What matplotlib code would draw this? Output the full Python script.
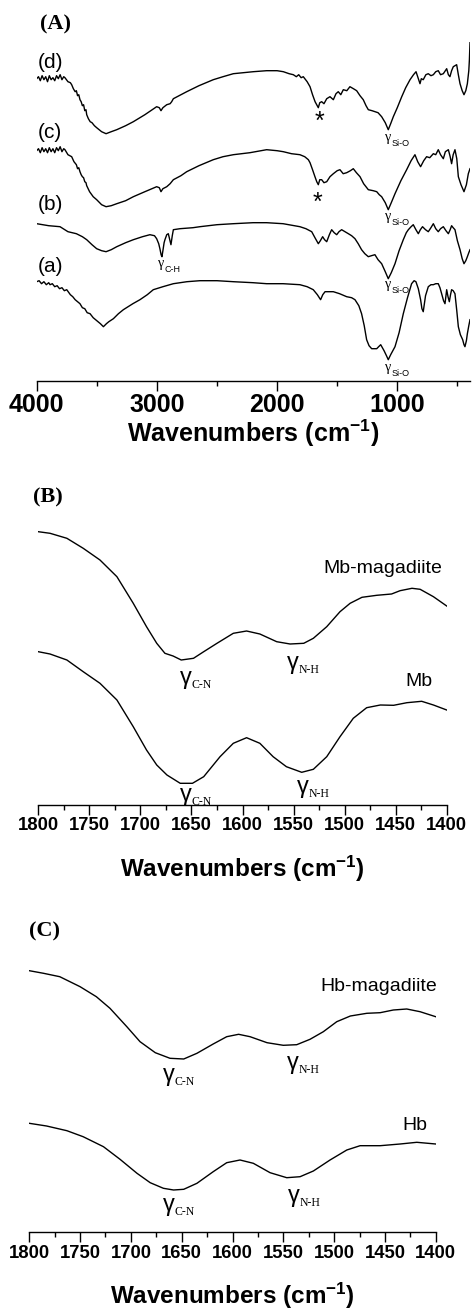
import matplotlib
matplotlib.use('Agg')
import matplotlib.pyplot as plt
from matplotlib.ticker import MultipleLocator

plt.rcParams['font.family'] = 'Liberation Sans'
plt.rcParams['mathtext.default'] = 'regular'

# ---- (A) full-range FTIR spectra, transmittance (a.u., offset) ----
d_wn = [4000, 3985, 3970, 3955, 3940, 3925, 3910, 3895, 3880, 3865, 3850, 3835, 3820, 3805, 3790,
        3775, 3765, 3740, 3720, 3709, 3695, 3680, 3670, 3660, 3650, 3640, 3630, 3620, 3610, 3600,
        3590, 3584, 3570, 3555, 3540, 3520, 3501, 3460, 3423, 3380, 3334, 3260, 3196, 3100, 3002,
        2980, 2966, 2950, 2918, 2890, 2877, 2863, 2800, 2752, 2650, 2531, 2450, 2364, 2280, 2198,
        2087, 2000, 1948, 1900, 1865, 1840, 1820, 1800, 1782, 1750, 1726, 1705, 1684, 1670, 1657,
        1645, 1629, 1610, 1587, 1560, 1532, 1510, 1491, 1470, 1449, 1420, 1394, 1365, 1338, 1310,
        1283, 1260, 1241, 1210, 1186, 1160, 1130, 1100, 1075, 1055, 1033, 1000, 963, 930, 894,
        865, 844, 825, 811, 800, 784, 762, 742, 720, 700, 680, 659, 640, 617, 600, 589, 575, 562,
        548, 534, 520, 506, 492, 478, 460, 445, 430, 417, 405, 400, 397, 395]
d_t = [302, 304, 300, 305, 301, 304, 299, 305, 301, 303, 300, 305, 302, 306, 301,
       304, 303, 299, 298, 296, 292, 289, 290, 285, 286, 281, 279, 275, 276, 270,
       271, 266, 262, 259, 258, 255, 253, 249, 247, 249, 251, 255, 259, 266, 274,
       273, 270, 273, 276, 277, 279, 282, 286, 289, 295, 301, 304, 307, 308, 309,
       310, 310, 309, 307, 306, 304, 306, 303, 304, 299, 294, 286, 279, 276, 273,
       278, 279, 277, 282, 284, 281, 287, 289, 286, 291, 290, 294, 292, 290, 285,
       281, 275, 271, 270, 269, 268, 264, 258, 251, 257, 264, 273, 284, 293, 301,
       306, 309, 302, 297, 302, 301, 306, 307, 305, 306, 309, 310, 306, 307, 310, 312, 306, 304,
       310, 314, 315, 316, 306, 297, 290, 286, 290, 297, 310, 321, 330, 338]

c_wn = [4000, 3985, 3970, 3955, 3940, 3925, 3910, 3895, 3880, 3865, 3850, 3835, 3820, 3805, 3790,
        3775, 3765, 3740, 3709, 3690, 3670, 3660, 3650, 3640, 3630, 3620, 3610, 3600, 3590, 3584,
        3560, 3530, 3501, 3460, 3423, 3380, 3334, 3260, 3196, 3100, 3002, 2980, 2966, 2950, 2918,
        2890, 2863, 2800, 2752, 2650, 2531, 2450, 2364, 2226, 2087, 2000, 1948, 1880, 1810, 1770,
        1740, 1726, 1705, 1685, 1670, 1657, 1645, 1629, 1610, 1587, 1560, 1532, 1500, 1477, 1450,
        1421, 1390, 1366, 1340, 1310, 1280, 1241, 1200, 1171, 1150, 1130, 1100, 1075, 1050, 1019,
        970, 922, 885, 853, 830, 806, 780, 756, 730, 700, 680, 659, 640, 617, 600, 575, 560, 548,
        535, 520, 505, 492, 470, 445, 425, 409, 395]
c_t = [230, 232, 228, 233, 229, 232, 228, 233, 229, 232, 228, 233, 230, 234, 229,
       232, 231, 226, 224, 219, 216, 212, 213, 209, 206, 204, 203, 199, 198, 195,
       189, 184, 181, 176, 174, 175, 177, 180, 184, 189, 194, 193, 189, 192, 194,
       197, 201, 205, 209, 215, 221, 224, 226, 228, 231, 230, 229, 227, 226, 224,
       221, 218, 211, 204, 199, 196, 201, 201, 198, 199, 204, 207, 210, 211, 207,
       208, 210, 212, 208, 204, 197, 191, 190, 189, 186, 184, 178, 171, 178, 187,
       200, 211, 220, 226, 219, 214, 220, 224, 223, 227, 226, 231, 226, 222, 229, 231, 224, 217,
       226, 231, 222, 204, 196, 189, 196, 207, 212]

b_wn = [4000, 3900, 3806, 3740, 3670, 3620, 3584, 3540, 3501, 3460, 3423, 3380, 3334, 3260, 3196,
        3120, 3058, 3020, 3002, 2985, 2975, 2965, 2958, 2950, 2940, 2933, 2918, 2905, 2895, 2883,
        2872, 2863, 2808, 2700, 2642, 2500, 2364, 2200, 2087, 1950, 1810, 1760, 1712, 1685, 1657,
        1640, 1621, 1605, 1587, 1565, 1546, 1525, 1504, 1485, 1463, 1435, 1407, 1380, 1352, 1325,
        1297, 1270, 1241, 1215, 1186, 1160, 1130, 1100, 1075, 1050, 1019, 985, 950, 925, 908, 885,
        867, 845, 825, 808, 790, 765, 742, 720, 700, 680, 659, 640, 617, 595, 575, 560, 548, 535,
        520, 500, 478, 460, 445, 430, 417, 405, 395]
b_t = [157, 155, 154, 149, 147, 144, 141, 136, 132, 130, 129, 131, 134, 138, 141,
       144, 146, 145, 142, 137, 132, 126, 124, 130, 138, 141, 146, 147, 142, 136,
       145, 151, 152, 153, 154, 156, 157, 158, 158, 157, 154, 152, 149, 143, 137,
       140, 144, 141, 139, 146, 151, 148, 146, 149, 151, 149, 147, 145, 142, 137,
       131, 127, 124, 125, 126, 121, 117, 109, 102, 108, 117, 130, 141, 148, 151, 154,
       156, 151, 147, 151, 154, 151, 149, 153, 157, 152, 149, 152, 154, 150, 147, 151, 155, 153,
       151, 140, 131, 122, 117, 120, 124, 128, 131]

a_wn = [4000, 3980, 3960, 3940, 3920, 3900, 3889, 3870, 3850, 3830, 3810, 3790, 3770, 3750, 3720,
        3700, 3680, 3660, 3640, 3620, 3600, 3580, 3556, 3530, 3500, 3470, 3445, 3420, 3400, 3362,
        3320, 3279, 3200, 3141, 3080, 3030, 2950, 2863, 2750, 2642, 2500, 2364, 2200, 2087, 1950,
        1810, 1750, 1699, 1665, 1638, 1620, 1601, 1560, 1532, 1480, 1421, 1380, 1352, 1320, 1297,
        1275, 1255, 1235, 1213, 1190, 1171, 1155, 1138, 1110, 1090, 1075, 1055, 1019, 985, 950,
        915, 881, 860, 845, 825, 806, 795, 784, 765, 742, 720, 700, 680, 659, 645, 631, 615, 603,
        595, 589, 578, 567, 557, 548, 535, 520, 505, 492, 475, 456, 445, 437, 425, 417, 405, 395]
a_t = [99, 100, 97, 99, 96, 98, 96, 97, 94, 95, 92, 93, 90, 91, 86,
       84, 81, 79, 77, 73, 72, 68, 67, 63, 60, 57, 54, 57, 59, 62,
       67, 71, 77, 81, 86, 91, 94, 97, 99, 100, 100, 99, 98, 97, 97,
       96, 94, 91, 86, 81, 86, 89, 89, 89, 87, 84, 83, 81, 75, 67,
       55, 41, 35, 32, 32, 32, 34, 36, 30, 25, 21, 26, 34, 48, 67,
       83, 97, 100, 99, 92, 81, 72, 69, 85, 94, 96, 96, 97, 97, 93, 87, 80, 77,
       85, 91, 84, 79, 86, 91, 90, 87, 70, 54, 46, 41, 36, 34, 40, 47, 55, 61]

# ---- (B) amide region, Mb ----
mbm_wn = [1800, 1788.5, 1772, 1756, 1739.6, 1723, 1707, 1694, 1684, 1676, 1668, 1660, 1648, 1638,
          1625, 1609, 1596, 1583, 1566.5, 1553.4, 1540, 1530.6, 1517.5, 1504.5, 1494.6, 1483,
          1468.5, 1454, 1445.7, 1434, 1426, 1413, 1400]
mbm_t = [273.3, 271.7, 266.7, 256.7, 245, 228.3, 201.7, 178.3, 161.7, 151.7, 149, 145, 146.7, 153.3,
         161.7, 171.7, 174, 171, 163.3, 161, 161.7, 166.7, 178.3, 193.3, 201.7, 207.7,
         209.7, 211, 214.3, 216.7, 215.7, 208.3, 199]
mb_wn = [1800, 1788.5, 1772, 1756, 1739.6, 1723, 1707, 1694, 1684, 1674, 1661, 1649, 1638, 1622,
         1609, 1596, 1583, 1570, 1557, 1542, 1530.6, 1517.5, 1504.5, 1491.5, 1478.4, 1465, 1452,
         1439, 1424.5, 1413, 1400]
mb_t = [153.3, 151, 145, 133.3, 121.7, 105, 78.3, 55, 40, 30, 21.7, 21.7, 28.3, 48.3,
        61.7, 67.3, 61.7, 48.3, 38.3, 32.7, 35.7, 48.3, 68.3, 86.7, 97.3, 100, 99.7,
        102.3, 103.7, 100, 95]

# ---- (C) amide region, Hb ----
hbm_wn = [1800, 1786, 1770, 1750, 1734, 1720.6, 1704, 1691, 1676, 1661.5, 1648, 1635, 1619, 1605.7,
          1594, 1582.7, 1566, 1550, 1536.8, 1523.7, 1510.6, 1497.4, 1484, 1467.8, 1454.7, 1441.7,
          1428.5, 1415.4, 1400]
hbm_t = [261.6, 259, 255.6, 245.6, 235.6, 224, 205.6, 190.6, 179.6, 174, 173.3, 179, 188.3, 195.6,
         198, 195.6, 189.6, 187, 187.6, 193, 200.6, 210.6, 216.3, 219, 219.6, 222.3,
         223.3, 220.6, 215.6]
hb_wn = [1800, 1783, 1763, 1747, 1727, 1710.7, 1694, 1681, 1668, 1658, 1648, 1635, 1619, 1605.7,
         1592.6, 1579.5, 1563, 1546.6, 1533.5, 1520.4, 1504, 1487.5, 1474.4, 1454.7, 1435, 1418.6, 1400]
hb_t = [109, 106.3, 101.6, 95.6, 85.6, 73, 59, 49.6, 44, 42.3, 43, 49, 60.6, 69.6,
        72.3, 69, 59.6, 54.6, 55.6, 61.3, 72.3, 82.3, 86.6, 86.6, 88.3, 90, 88.3]

a_ticks = [4000, 3000, 2000, 1000]
bc_ticks = [1800, 1750, 1700, 1650, 1600, 1550, 1500, 1450, 1400]
xlabel = 'Wavenumbers (cm$^{-1}$)'

W, H = 472, 1311
fig = plt.figure(figsize=(W / 100, H / 100), dpi=100)


def add_panel(left, right, top, bottom):
    return fig.add_axes([left / W, 1 - bottom / H, (right - left) / W, (bottom - top) / H])


def style(ax, ticks, minor, tsize, lsize, pad):
    for s in ['left', 'right', 'top']:
        ax.spines[s].set_visible(False)
    ax.spines['bottom'].set_linewidth(1.0)
    ax.set_yticks([])
    ax.set_xticks(ticks, labels=[str(t) for t in ticks], fontsize=tsize, fontweight='bold')
    ax.xaxis.set_minor_locator(MultipleLocator(minor))
    ax.tick_params(axis='x', which='major', direction='out', length=7, width=1, pad=2)
    ax.tick_params(axis='x', which='minor', direction='out', length=3.5, width=1)
    ax.set_xlabel(xlabel, fontsize=lsize, fontweight='bold', labelpad=pad)


def gamma(ax, x, y, sub, gsize, ssize, gfam, sfam, dx, dy):
    ax.text(x, y, 'γ', fontsize=gsize, family=gfam, ha='left', va='baseline')
    ax.annotate(sub, xy=(x, y), xytext=(dx, dy), textcoords='offset points',
                fontsize=ssize, family=sfam, ha='left', va='baseline')


# panel A
axA = add_panel(36.7, 470, 40, 380.7)
for wn, t in [(d_wn, d_t), (c_wn, c_t), (b_wn, b_t), (a_wn, a_t)]:
    axA.plot(wn, t, color='black', lw=1.0)
axA.set_xlim(4000, 395)
axA.set_ylim(0, 340.7)
style(axA, a_ticks, 500, 18, 18, 0)
axA.text(3973, 356.7, '(A)', fontsize=16, family='Liberation Serif', fontweight='bold',
         ha='left', va='center', clip_on=False)
for lab, yy in [('(d)', 318), ('(c)', 248), ('(b)', 176), ('(a)', 114)]:
    axA.text(3992, yy, lab, fontsize=15, ha='left', va='center')
for xx, yy in [(1651, 259), (1668, 178)]:
    axA.text(xx, yy, '*', fontsize=18, ha='center', va='center')
for yy in [240, 161, 93, 10]:
    gamma(axA, 1102, yy, 'Si-O', 10, 6.5, 'Liberation Serif', 'Liberation Sans', 5, -3.5)
gamma(axA, 2991, 114, 'C-H', 10, 6.5, 'Liberation Serif', 'Liberation Sans', 5, -3.5)

# panel B
axB = add_panel(38.3, 446.7, 505, 805)
axB.plot(mbm_wn, mbm_t, color='black', lw=1.0)
axB.plot(mb_wn, mb_t, color='black', lw=1.0)
axB.set_xlim(1800, 1400)
axB.set_ylim(0, 300)
style(axB, bc_ticks, 25, 13.3, 17.5, 14)
axB.text(1805, 308, '(B)', fontsize=16, family='Liberation Serif', fontweight='bold',
         ha='left', va='center', clip_on=False)
axB.text(1404, 236.5, 'Mb-magadiite', fontsize=14, ha='right', va='center')
axB.text(1414, 124, 'Mb', fontsize=14, ha='right', va='center')
for xx, yy, sub in [(1661.2, 121, 'C-N'), (1556.3, 136, 'N-H'), (1661.2, 4, 'C-N'), (1546.6, 12, 'N-H')]:
    gamma(axB, xx, yy, sub, 17, 8.5, 'Liberation Sans', 'Liberation Serif', 8, -3)

# panel C
axC = add_panel(29.3, 435.7, 932.3, 1232.3)
axC.plot(hbm_wn, hbm_t, color='black', lw=1.0)
axC.plot(hb_wn, hb_t, color='black', lw=1.0)
axC.set_xlim(1800, 1400)
axC.set_ylim(0, 300)
style(axC, bc_ticks, 25, 13.3, 17.5, 14)
axC.text(1800.3, 301, '(C)', fontsize=16, family='Liberation Serif', fontweight='bold',
         ha='left', va='center', clip_on=False)
axC.text(1398.6, 246, 'Hb-magadiite', fontsize=14, ha='right', va='center')
axC.text(1408.5, 107, 'Hb', fontsize=14, ha='right', va='center')
for xx, yy, sub in [(1668.4, 151, 'C-N'), (1546.3, 163, 'N-H'), (1668.4, 21, 'C-N'), (1545.3, 30, 'N-H')]:
    gamma(axC, xx, yy, sub, 17, 8.5, 'Liberation Sans', 'Liberation Serif', 8, -3)

fig.savefig('out.png', dpi=100)
